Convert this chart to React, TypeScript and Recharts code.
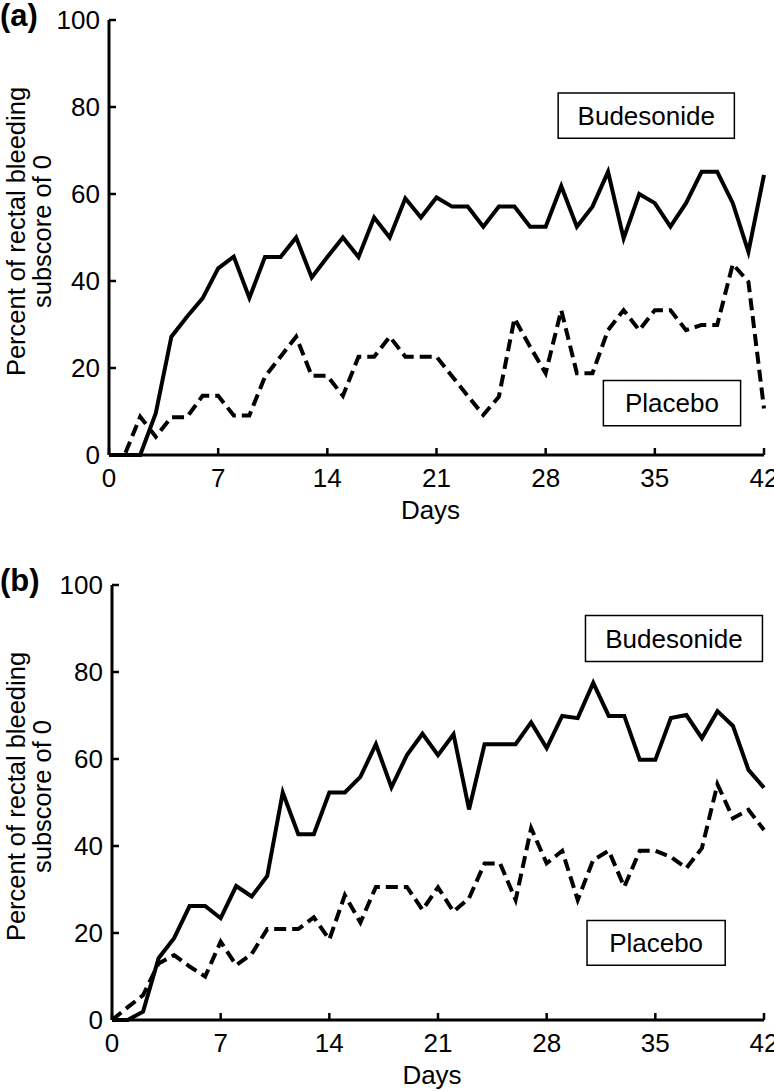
import React from 'react';
import { LineChart, Line, XAxis, YAxis, ReferenceArea, Label } from 'recharts';

const FONT = '"Liberation Sans", Arial, Helvetica, sans-serif';

// study day (x axis)
const days = [
  0, 1, 2, 3, 4, 5, 6, 7, 8, 9, 10, 11, 12, 13, 14, 15, 16, 17, 18, 19, 20, 21,
  22, 23, 24, 25, 26, 27, 28, 29, 30, 31, 32, 33, 34, 35, 36, 37, 38, 39, 40, 41, 42,
];
const xTicks = [0, 7, 14, 21, 28, 35, 42];
const yTicks = [0, 20, 40, 60, 80, 100];

// panel (a)
const budesonideA = [
  0, 0, 0, 9.6, 27.2, 31.8, 36.0, 42.9, 45.6, 36.1, 45.5, 45.5, 50.0, 40.8, 45.5, 50.0,
  45.5, 54.6, 50.0, 59.0, 54.6, 59.2, 57.1, 57.1, 52.5, 57.1, 57.1, 52.5, 52.5, 61.8,
  52.5, 57.1, 65.1, 49.8, 60.0, 57.9, 52.5, 57.9, 65.1, 65.1, 57.9, 46.7, 64.4,
];
const placeboA = [
  0, 0, 8.8, 4.2, 8.7, 8.7, 13.6, 13.6, 9.1, 9.1, 18.0, 22.6, 27.2, 18.2, 18.2, 13.6,
  22.6, 22.6, 27.2, 22.6, 22.6, 22.6, 18.1, 13.6, 9.2, 13.4, 31.4, 24.9, 18.8, 33.3,
  18.8, 18.8, 28.7, 33.3, 28.7, 33.3, 33.3, 28.7, 29.9, 29.9, 43.9, 39.8, 10.7,
];

// panel (b)
const budesonideB = [
  0, 0, 1.9, 14.2, 18.8, 26.2, 26.2, 23.4, 30.8, 28.4, 33.1, 52.3, 42.7, 42.7, 52.3, 52.3,
  55.9, 63.4, 53.5, 60.9, 65.8, 60.9, 65.7, 48.4, 63.4, 63.4, 63.4, 68.4, 62.5, 69.9,
  69.4, 77.5, 69.9, 69.9, 59.8, 59.8, 69.4, 70.1, 64.8, 71.0, 67.6, 57.5, 53.4,
];
const placeboB = [
  0, 2.9, 5.7, 13.0, 14.9, 12.3, 10.0, 18.0, 12.6, 15.2, 20.9, 20.9, 20.9, 23.6, 18.5, 28.7,
  22.4, 30.6, 30.6, 30.6, 25.3, 30.5, 24.9, 28.0, 36.0, 36.0, 27.6, 44.1, 36.0, 38.9,
  27.6, 36.8, 38.9, 30.6, 38.9, 38.9, 37.5, 34.9, 39.5, 54.2, 46.4, 48.3, 43.7,
];

// label boxes, in data units [x1, x2, y1, y2]
const boxesA = {
  bud: [28.8, 40.1, 72.8, 83.2],
  pla: [31.7, 40.5, 6.7, 17.1],
};
const boxesB = {
  bud: [30.5, 41.9, 82.4, 93.0],
  pla: [30.6, 39.5, 12.6, 22.9],
};

const makeRows = (bud: number[], pla: number[]) =>
  days.map((d, i) => ({ day: d, bud: bud[i], pla: pla[i] }));

const YTitle = (tag: string) => (props: any) => {
  const vb = props.viewBox || {};
  const cy = vb.y + vb.height / 2 - 6;
  return (
    <g fontFamily={FONT} fill="#000">
      <text x={0} y={26} fontSize={31} fontWeight="bold">
        {tag}
      </text>
      <text x={25} y={cy} fontSize={25.5} textAnchor="middle" transform={`rotate(-90 25 ${cy})`}>
        Percent of rectal bleeding
      </text>
      <text x={51} y={cy} fontSize={25.5} textAnchor="middle" transform={`rotate(-90 51 ${cy})`}>
        subscore of 0
      </text>
    </g>
  );
};

const DaysTitle = (props: any) => {
  const vb = props.viewBox || {};
  return (
    <text x={vb.x + vb.width / 2 - 6} y={vb.y + 64} fontSize={26} textAnchor="middle" fill="#000" fontFamily={FONT}>
      Days
    </text>
  );
};

interface PanelProps {
  tag: string;
  bud: number[];
  pla: number[];
  boxes: { bud: number[]; pla: number[] };
  yWidth: number;
  top: number;
}

const Panel: React.FC<PanelProps> = ({ tag, bud, pla, boxes, yWidth, top }) => {
  const rows = makeRows(bud, pla);
  const boxLabel = (value: string) => ({
    value,
    position: 'center' as const,
    fontSize: 26,
    fill: '#000',
    fontFamily: FONT,
  });
  return (
    <div style={{ position: 'absolute', left: 0, top }}>
      <LineChart width={774} height={545} data={rows} margin={{ top: 20, right: 10, bottom: 20, left: 0 }}>
        <XAxis
          type="number"
          dataKey="day"
          domain={[0, 42]}
          ticks={xTicks}
          interval={0}
          height={70}
          tickSize={-7}
          tickMargin={21}
          axisLine={{ stroke: '#000', strokeWidth: 3 }}
          tickLine={{ stroke: '#000', strokeWidth: 2.5 }}
          tick={{ fill: '#000', fontSize: 26, fontFamily: FONT }}
        >
          <Label content={DaysTitle} />
        </XAxis>
        <YAxis
          type="number"
          domain={[0, 100]}
          ticks={yTicks}
          interval={0}
          width={yWidth}
          tickSize={-7}
          tickMargin={16}
          axisLine={{ stroke: '#000', strokeWidth: 3 }}
          tickLine={{ stroke: '#000', strokeWidth: 2.5 }}
          tick={{ fill: '#000', fontSize: 26, fontFamily: FONT }}
        >
          <Label content={YTitle(tag)} />
        </YAxis>
        <ReferenceArea
          x1={boxes.bud[0]}
          x2={boxes.bud[1]}
          y1={boxes.bud[2]}
          y2={boxes.bud[3]}
          fill="#fff"
          fillOpacity={1}
          stroke="#000"
          strokeWidth={1.5}
          label={boxLabel('Budesonide')}
        />
        <ReferenceArea
          x1={boxes.pla[0]}
          x2={boxes.pla[1]}
          y1={boxes.pla[2]}
          y2={boxes.pla[3]}
          fill="#fff"
          fillOpacity={1}
          stroke="#000"
          strokeWidth={1.5}
          label={boxLabel('Placebo')}
        />
        <Line
          type="linear"
          dataKey="bud"
          stroke="#000"
          strokeWidth={4}
          strokeLinejoin="miter"
          dot={false}
          activeDot={false}
          isAnimationActive={false}
        />
        <Line
          type="linear"
          dataKey="pla"
          stroke="#000"
          strokeWidth={4}
          strokeDasharray="12 6"
          strokeLinejoin="miter"
          dot={false}
          activeDot={false}
          isAnimationActive={false}
        />
      </LineChart>
    </div>
  );
};

export default function App() {
  return (
    <div style={{ position: 'absolute', left: 0, top: 0, width: 774, height: 1091, background: '#fff', fontFamily: FONT }}>
      <Panel tag="(a)" bud={budesonideA} pla={placeboA} boxes={boxesA} yWidth={109} top={0} />
      <Panel tag="(b)" bud={budesonideB} pla={placeboB} boxes={boxesB} yWidth={112} top={565} />
    </div>
  );
}
